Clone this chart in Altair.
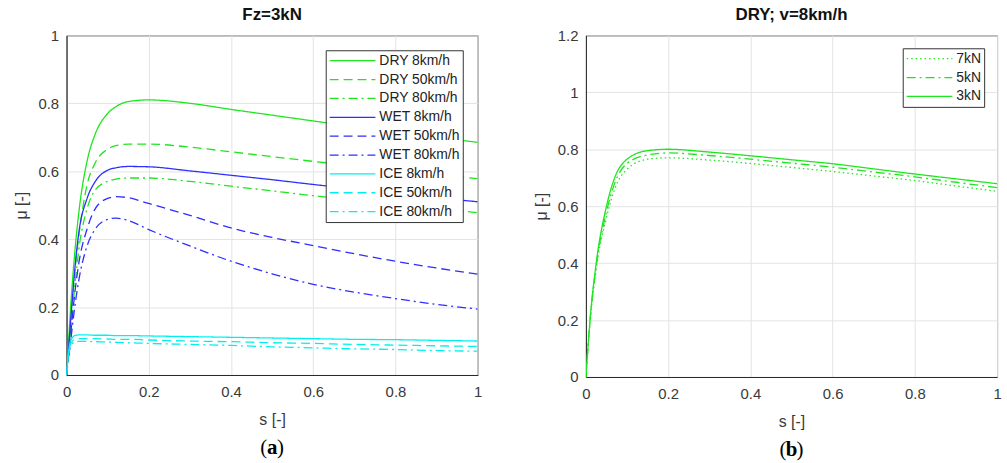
import altair as alt
import pandas as pd

# ---------------- data ----------------
S_LEFT = [0, 0.005, 0.01, 0.02, 0.03, 0.05, 0.07, 0.1, 0.12, 0.15, 0.2,
          0.3, 0.4, 0.5, 0.6, 0.7, 0.8, 0.9, 1.0]

DRY_8 = [0, 0.10, 0.20, 0.36, 0.48, 0.63, 0.71, 0.77, 0.79, 0.805, 0.81,
         0.80, 0.782, 0.765, 0.748, 0.731, 0.715, 0.70, 0.685]
DRY_50 = [0, 0.075, 0.15, 0.30, 0.41, 0.56, 0.625, 0.665, 0.675, 0.68, 0.68,
          0.671, 0.657, 0.643, 0.629, 0.616, 0.603, 0.59, 0.578]
DRY_80 = [0, 0.065, 0.13, 0.26, 0.37, 0.49, 0.545, 0.57, 0.577, 0.58, 0.58,
          0.57, 0.556, 0.542, 0.528, 0.515, 0.502, 0.49, 0.478]
WET_8 = [0, 0.08, 0.16, 0.31, 0.42, 0.52, 0.57, 0.603, 0.61, 0.614, 0.613,
         0.601, 0.588, 0.575, 0.561, 0.548, 0.535, 0.522, 0.51]
WET_50 = [0, 0.06, 0.12, 0.24, 0.33, 0.43, 0.49, 0.52, 0.525, 0.522, 0.505,
          0.47, 0.433, 0.405, 0.381, 0.357, 0.335, 0.315, 0.297]
WET_80 = [0, 0.05, 0.10, 0.20, 0.28, 0.38, 0.43, 0.458, 0.462, 0.455, 0.428,
          0.38, 0.335, 0.298, 0.267, 0.244, 0.225, 0.208, 0.194]
ICE_8 = [0, 0.07, 0.10, 0.116, 0.118, 0.118, 0.117, 0.117, 0.116, 0.116, 0.115,
         0.113, 0.111, 0.109, 0.107, 0.105, 0.104, 0.102, 0.100]
ICE_50 = [0, 0.065, 0.092, 0.105, 0.107, 0.107, 0.107, 0.106, 0.105, 0.105, 0.103,
          0.100, 0.098, 0.095, 0.093, 0.090, 0.088, 0.086, 0.084]
ICE_80 = [0, 0.06, 0.085, 0.097, 0.099, 0.099, 0.098, 0.097, 0.096, 0.095, 0.093,
          0.090, 0.087, 0.083, 0.080, 0.077, 0.075, 0.072, 0.070]

LEFT_NAMES = ["DRY 8km/h", "DRY 50km/h", "DRY 80km/h",
              "WET 8km/h", "WET 50km/h", "WET 80km/h",
              "ICE 8km/h", "ICE 50km/h", "ICE 80km/h"]
LEFT_SERIES = [DRY_8, DRY_50, DRY_80, WET_8, WET_50, WET_80, ICE_8, ICE_50, ICE_80]

S_RIGHT = [0, 0.01, 0.025, 0.05, 0.07, 0.1, 0.15, 0.2, 0.3, 0.4, 0.5,
           0.6, 0.7, 0.8, 0.9, 1.0]
FZ_7 = [0, 0.19, 0.38, 0.56, 0.66, 0.73, 0.765, 0.77, 0.762, 0.75, 0.736,
        0.722, 0.706, 0.69, 0.671, 0.652]
FZ_5 = [0, 0.20, 0.39, 0.58, 0.68, 0.75, 0.78, 0.787, 0.778, 0.765, 0.751,
        0.737, 0.72, 0.703, 0.684, 0.665]
FZ_3 = [0, 0.20, 0.40, 0.60, 0.70, 0.765, 0.795, 0.80, 0.79, 0.777, 0.763,
        0.749, 0.731, 0.713, 0.696, 0.679]
RIGHT_NAMES = ["7kN", "5kN", "3kN"]
RIGHT_SERIES = [FZ_7, FZ_5, FZ_3]

X_TICKS = [0, 0.2, 0.4, 0.6, 0.8, 1.0]
Y_TICKS_LEFT = [0, 0.2, 0.4, 0.6, 0.8, 1.0]
Y_TICKS_RIGHT = [0, 0.2, 0.4, 0.6, 0.8, 1.0, 1.2]

# ---------------- styles ----------------
GREEN = "#1ee61e"
BLUE = "#2e2eff"
CYAN = "#00f0f0"
SOLID = [1, 0]
DASH = [9, 5]
DASHDOT = [9, 4, 2, 4]
DOT = [1.5, 3]

LEFT_COLORS = [GREEN] * 3 + [BLUE] * 3 + [CYAN] * 3
LEFT_DASHES = [SOLID, DASH, DASHDOT] * 3
RIGHT_COLORS = [GREEN] * 3
RIGHT_DASHES = [DOT, DASHDOT, SOLID]

FONT = "Liberation Sans"
TXT = "#3a3a3a"
GRID = "#e3e3e3"

rows = []
for name, vals in zip(LEFT_NAMES, LEFT_SERIES):
    for s, m in zip(S_LEFT, vals):
        rows.append({"s": s, "mu": m, "series": name})
df_left = pd.DataFrame(rows)

rows = []
for name, vals in zip(RIGHT_NAMES, RIGHT_SERIES):
    for s, m in zip(S_RIGHT, vals):
        rows.append({"s": s, "mu": m, "series": name})
df_right = pd.DataFrame(rows)

W = 414
H_L = 342
H_R = 344


def axis_x():
    return alt.Axis(values=X_TICKS, format="~g", title="s [-]", grid=True,
                    gridColor=GRID, domainColor="#262626", tickSize=0,
                    labelFontSize=15, labelColor=TXT, labelPadding=10,
                    titleFontSize=16, titleFontWeight="normal", titleColor=TXT,
                    titlePadding=12, labelFlush=False)


def axis_y(vals):
    return alt.Axis(values=vals, format="~g", title="μ [-]", grid=True,
                    gridColor=GRID, domainColor="#262626", tickSize=0,
                    labelFontSize=15, labelColor=TXT, labelPadding=8,
                    titleFontSize=16, titleFontWeight="normal", titleColor=TXT,
                    titlePadding=8, labelFlush=False)


def legend(off):
    return alt.Legend(title=None, orient="top-right", offset=off,
                      strokeColor="#333333", fillColor="white", padding=3,
                      symbolType="stroke", symbolSize=2116, symbolStrokeWidth=1.3,
                      clipHeight=15, rowPadding=4, labelFontSize=14,
                      labelColor="#222222", labelOffset=3, labelFont=FONT,
                      cornerRadius=0)


def caption(letter, h):
    cx = W / 2
    yy = h + 74
    base = alt.Chart(pd.DataFrame({"t": ["("]}))
    p1 = base.mark_text(text="(", font="Liberation Serif", fontSize=21,
                        align="right", baseline="middle", color="black").encode(
        x=alt.value(cx - 5), y=alt.value(yy))
    p2 = base.mark_text(text=letter, font="Liberation Serif", fontSize=21,
                        fontWeight="bold", align="center", baseline="middle",
                        color="black").encode(x=alt.value(cx), y=alt.value(yy))
    p3 = base.mark_text(text=")", font="Liberation Serif", fontSize=21,
                        align="left", baseline="middle", color="black").encode(
        x=alt.value(cx + 5), y=alt.value(yy))
    return p1 + p2 + p3


left_lines = alt.Chart(df_left).mark_line(strokeWidth=1.3, interpolate="monotone", clip=True).encode(
    x=alt.X("s:Q", scale=alt.Scale(domain=[0, 1], nice=False), axis=axis_x()),
    y=alt.Y("mu:Q", scale=alt.Scale(domain=[0, 1], nice=False), axis=axis_y(Y_TICKS_LEFT)),
    color=alt.Color("series:N", scale=alt.Scale(domain=LEFT_NAMES, range=LEFT_COLORS),
                    sort=LEFT_NAMES, legend=legend(15)),
    strokeDash=alt.StrokeDash("series:N", scale=alt.Scale(domain=LEFT_NAMES, range=LEFT_DASHES),
                              sort=LEFT_NAMES, legend=legend(15)),
)

left = alt.layer(left_lines, caption("a", H_L)).properties(
    width=W, height=H_L,
    title=alt.TitleParams("Fz=3kN", fontSize=17, fontWeight="bold", color="#111111",
                          font=FONT, offset=4),
)

right_lines = alt.Chart(df_right).mark_line(strokeWidth=1.3, interpolate="monotone", clip=True).encode(
    x=alt.X("s:Q", scale=alt.Scale(domain=[0, 1], nice=False), axis=axis_x()),
    y=alt.Y("mu:Q", scale=alt.Scale(domain=[0, 1.2], nice=False), axis=axis_y(Y_TICKS_RIGHT)),
    color=alt.Color("series:N", scale=alt.Scale(domain=RIGHT_NAMES, range=RIGHT_COLORS),
                    sort=RIGHT_NAMES, legend=legend(13)),
    strokeDash=alt.StrokeDash("series:N", scale=alt.Scale(domain=RIGHT_NAMES, range=RIGHT_DASHES),
                              sort=RIGHT_NAMES, legend=legend(13)),
)

right = alt.layer(right_lines, caption("b", H_R)).properties(
    width=W, height=H_R,
    title=alt.TitleParams("DRY; v=8km/h", fontSize=17, fontWeight="bold", color="#111111",
                          font=FONT, offset=4),
)

chart = alt.hconcat(left, right, spacing=50).resolve_scale(
    color="independent", strokeDash="independent"
).resolve_legend(color="independent", strokeDash="independent").properties(
    padding={"left": 13, "top": 4, "right": 5, "bottom": 0}
).configure(font=FONT).configure_view(stroke="#262626", strokeWidth=1)

chart.save("out.html", embed_options={"renderer": "svg", "actions": False})
